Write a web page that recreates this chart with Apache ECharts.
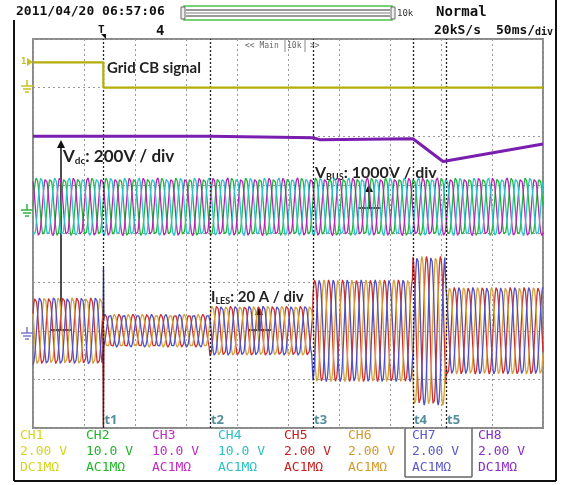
<!DOCTYPE html>
<html>
<head>
<meta charset="utf-8">
<script src="https://cdn.jsdelivr.net/npm/echarts@6/dist/echarts.min.js"></script>
<style>
html,body{margin:0;padding:0;background:#fff;}
#c{width:561px;height:485px;}
</style>
</head>
<body>
<div id="c"></div>
<script>
// ---------- data (x in ms, y in divisions) ----------
const cursorTimes = [69, 173.5, 274.5, 372.5, 405];
const cursorLabels = ['t1', 't2', 't3', 't4', 't5'];

// CH1 grid circuit breaker signal (step)
const ch1Time  = [0, 69, 69, 500];
const ch1Level = [7.52, 7.52, 7.0, 7.0];

// CH8 DC bus voltage
const ch8Time  = [0, 173.5, 174.5, 274.5, 281, 372.5, 402, 500];
const ch8Level = [6.0, 6.0, 5.97, 5.97, 5.93, 5.95, 5.48, 5.84];

// Three-phase grid voltages (CH2, CH3, CH4)
const voltCenter = 4.55;
const voltAmp = 0.6;

// Three-phase currents (CH5, CH6, CH7): amplitude per segment between cursors
const curEdges = [0, 69, 173.5, 274.5, 372.5, 405, 500];
const curAmp   = [0.70, 0.34, 0.52, 1.05, 1.53, 0.90];
const curCenter = 2.0;

const periodMs = 13.7;
const phasesDeg = [0, 120, 240];

// transient at t1
const redSpikeTime = [68.6, 69.0, 69.4];
const redSpikeVal  = [2.2, 0.03, 1.8];
const blueSpikeTime = [68.8, 69.1, 69.5];
const blueSpikeVal  = [2.3, 3.3, 2.2];

// channel table
const chNames = ['CH1','CH2','CH3','CH4','CH5','CH6','CH7','CH8'];
const chScale = ['2.00 V','10.0 V','10.0 V','10.0 V','2.00 V','2.00 V','2.00 V','2.00 V'];
const chCoupling = ['DC1MΩ','AC1MΩ','AC1MΩ','AC1MΩ','AC1MΩ','AC1MΩ','AC1MΩ','DC1MΩ'];
const chColors = ['#d6d41e','#22b42a','#c02cc0','#2cc0c4','#c81e1e','#d49a2a','#5a5ac8','#8a2cc8'];

// ---------- build series points ----------
function zip(a, b){ return a.map((v,i)=>[v, b[i]]); }
function segAmp(t, edges, amps){
  for (let i = 0; i < amps.length; i++) if (t < edges[i+1]) return amps[i];
  return amps[amps.length-1];
}
function wave(center, ampFn, phase){
  const pts = [];
  for (let t = 0; t <= 500; t += 0.25){
    pts.push([t, center + ampFn(t) * Math.sin(2*Math.PI*t/periodMs + phase*Math.PI/180)]);
  }
  return pts;
}
const voltColors = ['#20b43c','#b424b4','#2cc0c8'];
const curColors = ['#cc3030','#d4a03a','#5050c4'];

const series = [];
phasesDeg.forEach((p,i)=>{
  series.push({type:'line', data: wave(voltCenter, ()=>voltAmp, p), showSymbol:false, silent:true,
    lineStyle:{color:voltColors[i], width:1.3}, z:2});
});
phasesDeg.forEach((p,i)=>{
  series.push({type:'line', data: wave(curCenter, t=>segAmp(t, curEdges, curAmp), p+30), showSymbol:false, silent:true,
    lineStyle:{color:curColors[i], width:1.3}, z:3});
});
series.push({type:'line', data: zip(redSpikeTime, redSpikeVal), showSymbol:false, silent:true, lineStyle:{color:'#8a1010', width:1.5}, z:4});
series.push({type:'line', data: zip(blueSpikeTime, blueSpikeVal), showSymbol:false, silent:true, lineStyle:{color:'#30308a', width:1.3}, z:4});
series.push({type:'line', data: zip(ch8Time, ch8Level), showSymbol:false, silent:true, lineStyle:{color:'#7a1eb0', width:3}, z:5});
series.push({type:'line', data: zip(ch1Time, ch1Level), showSymbol:false, silent:true, lineStyle:{color:'#b4ae08', width:2.2}, z:5,
  markLine:{silent:true, symbol:'none', label:{show:false},
    lineStyle:{color:'#222', type:[2,2], width:1.3},
    data: cursorTimes.map(t=>({xAxis:t}))}});
series.push({type:'scatter', symbolSize:0, silent:true, z:6,
  data: cursorTimes.map((t,i)=>({value:[t, 0.15], name:cursorLabels[i]})),
  label:{show:true, position:'right', distance:1, formatter:'{b}', color:'#2b7384', fontSize:13, fontWeight:'bold', fontFamily:'Open Sans'}});

// ---------- graphics (header, annotations, channel table) ----------
const mono = 'DejaVu Sans Mono';
const G = [];
function txt(x,y,s,opt){ G.push(Object.assign({type:'text', x:x, y:y, silent:true, style:Object.assign({text:s, fill:'#111', font:'bold 13px '+mono, textVerticalAlign:'middle'}, opt||{})})); }
function line(x1,y1,x2,y2,stroke,w){ G.push({type:'line', silent:true, shape:{x1:x1,y1:y1,x2:x2,y2:y2}, style:{stroke:stroke, lineWidth:w||1}}); }

// frame
line(14,20,14,481,'#111',2);
line(14,481,556,481,'#111',2);
line(556,0,556,481,'#111',2);

txt(16,12,'2011/04/20 06:57:06');
// record bar
G.push({type:'rect', silent:true, shape:{x:184,y:6,width:208,height:14}, style:{fill:'#fff', stroke:'#4cc24c', lineWidth:1.5}});
line(186,10,390,10,'#777',1.5);
line(186,13,390,13,'#aaa',1.5);
line(186,16,390,16,'#777',1.5);
G.push({type:'rect', silent:true, shape:{x:181,y:7,width:4,height:12}, style:{fill:'#eee', stroke:'#666', lineWidth:1}});
G.push({type:'rect', silent:true, shape:{x:391,y:7,width:4,height:12}, style:{fill:'#eee', stroke:'#666', lineWidth:1}});
txt(397,14,'10k',{font:'9px '+mono, fill:'#333'});
txt(436,12,'Normal',{font:'bold 14px '+mono});
txt(434,31,'20kS/s',{font:'bold 13px '+mono});
txt(496,31,'50ms/',{font:'bold 13px '+mono});
txt(535,32,'div',{font:'bold 10px '+mono});
txt(156,31,'4',{font:'bold 14px '+mono});
txt(98,30,'T',{font:'bold 11px '+mono});
G.push({type:'polygon', silent:true, shape:{points:[[101,34],[106,34],[106,39]]}, style:{fill:'#111'}});
txt(245,46,'<< Main',{font:'8px '+mono, fill:'#666'});
txt(287,46,'10k',{font:'8px '+mono, fill:'#666'});
txt(310,46,'>>',{font:'8px '+mono, fill:'#666'});
line(285,40,285,52,'#888',1);
line(305,40,305,52,'#888',1);

// left markers
txt(21,62,'1',{font:'bold 9px '+mono, fill:'#c8c020'});
G.push({type:'polygon', silent:true, shape:{points:[[27,58],[33,62],[27,66]]}, style:{fill:'#c8c020'}});
function gnd(y,c){
  line(27,y-6,27,y,c,1.5);
  line(21,y,33,y,c,1.5);
  line(23,y+3,31,y+3,c,1.5);
  line(25,y+6,29,y+6,c,1.5);
}
gnd(86,'#c8c020');
gnd(210,'#2cb43c');
gnd(333,'#7a7ad0');

// annotations
const ann = 'Lato';
txt(107,68,'Grid CB signal',{font:'bold 15px '+ann, fill:'#222'});
G.push({type:'text', silent:true, x:63, y:157, style:{rich:{a:{font:'bold 17px '+ann, fill:'#222'}, s:{font:'bold 10px '+ann, fill:'#222', padding:[8,0,0,0]}}, text:'{a|V}{s|dc}{a|: 200V / div}', textVerticalAlign:'middle'}});
G.push({type:'text', silent:true, x:315, y:173, style:{rich:{a:{font:'bold 16px '+ann, fill:'#222'}, s:{font:'bold 9px '+ann, fill:'#222', padding:[8,0,0,0]}}, text:'{a|V}{s|BUS}{a|: 1000V / div}', textVerticalAlign:'middle'}});
G.push({type:'text', silent:true, x:211, y:297, style:{rich:{a:{font:'bold 15px '+ann, fill:'#222'}, s:{font:'bold 9px '+ann, fill:'#222', padding:[8,0,0,0]}}, text:'{a|I}{s|LES}{a|: 20 A / div}', textVerticalAlign:'middle'}});
function arrow(x, yBase, yTip, hx1, hx2){
  line(x, yBase, x, yTip+5, '#111', 1.5);
  G.push({type:'polygon', silent:true, shape:{points:[[x-4,yTip+8],[x,yTip],[x+4,yTip+8]]}, style:{fill:'#111'}});
  line(hx1, yBase, hx2, yBase, '#111', 1.5);
}
arrow(61, 330, 140, 50, 71);
arrow(369, 208, 184, 358, 381);
arrow(259, 330, 307, 248, 271);

// channel table
const colX = [20, 86, 152, 218, 284, 348, 412, 478];
chNames.forEach((n,i)=>{
  const f = '13px '+mono;
  txt(colX[i],436,n,{font:f, fill:chColors[i]});
  txt(colX[i],452,chScale[i],{font:f, fill:chColors[i]});
  txt(colX[i],468,chCoupling[i],{font:f, fill:chColors[i]});
});
line(405,428,405,477,'#666',1.5);
line(405,477,472,477,'#666',1.5);
line(472,428,472,477,'#666',1.5);

const chart = echarts.init(document.getElementById('c'), null, {renderer:'canvas'});
chart.setOption({
  animation:false,
  backgroundColor:'#fff',
  grid:{left:33, right:18, top:39, bottom:57, show:true, borderColor:'#8a8a8a', borderWidth:2, backgroundColor:'#fff'},
  xAxis:{type:'value', min:0, max:500, interval:50, axisLine:{show:false}, axisTick:{show:false}, axisLabel:{show:false},
    splitLine:{show:true, lineStyle:{color:'#999', type:[2,3], width:1}}},
  yAxis:{type:'value', min:0, max:8, interval:1, axisLine:{show:false}, axisTick:{show:false}, axisLabel:{show:false},
    splitLine:{show:true, lineStyle:{color:'#999', type:[2,3], width:1}}},
  series: series,
  graphic: G
});
</script>
</body>
</html>
